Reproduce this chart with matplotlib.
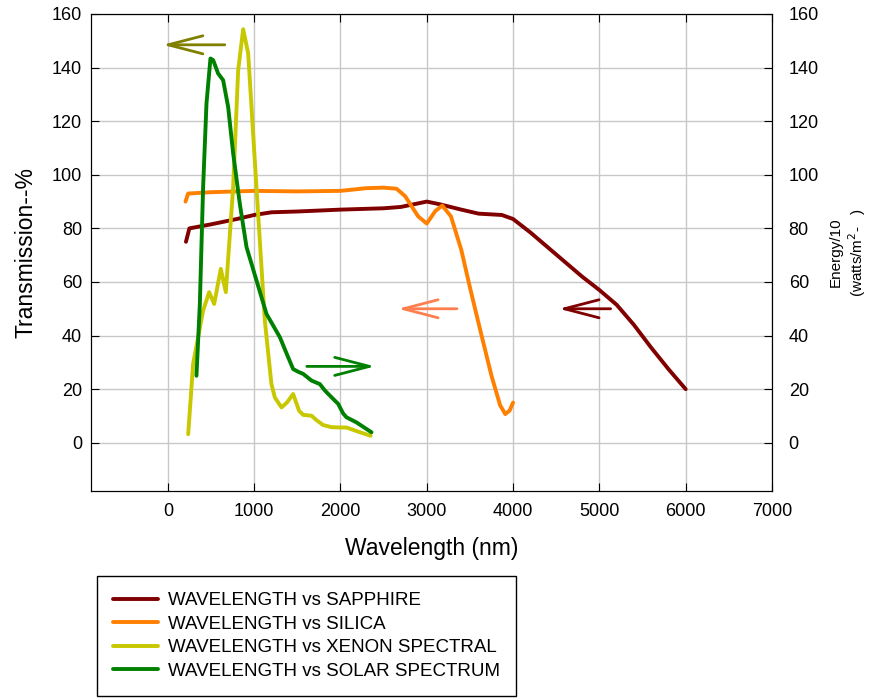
import matplotlib
matplotlib.use("Agg")
import matplotlib.pyplot as plt

plt.rcParams["font.family"] = ["Liberation Sans", "DejaVu Sans"]

# transmission curves (nm, %)
sapphire_x = [210, 250, 500, 800, 1000, 1200, 1500, 2000, 2500, 2700, 2850, 3000, 3150, 3400, 3600, 3870, 4000,
              4200, 4400, 4600, 4800, 5000, 5200, 5400, 5600, 5800, 6000]
sapphire_y = [75, 80, 81.5, 83.5, 85, 86, 86.3, 87, 87.5, 88, 89, 90, 89, 87, 85.5, 85, 83.5,
              78.5, 73, 67.5, 62, 57, 51.5, 44, 35.5, 27.5, 20]

silica_x = [205, 235, 500, 1000, 1500, 2000, 2300, 2500, 2650, 2750, 2900, 3000, 3100, 3180, 3280, 3400, 3500,
            3620, 3750, 3850, 3910, 3960, 4000]
silica_y = [90, 93, 93.5, 94, 93.8, 94, 95, 95.2, 94.8, 92, 84.5, 81.8, 86.5, 88.5, 84.5, 72, 58,
            42, 25, 14, 10.7, 12, 15]

xenon_x = [236, 293, 409, 479, 537, 614, 672, 757, 815, 873, 931, 1027, 1124, 1200, 1240, 1317, 1380, 1452,
           1520, 1568, 1665, 1720, 1800, 1900, 2000, 2070, 2200, 2350]
xenon_y = [3.2, 29.4, 49.3, 56.2, 51.8, 64.9, 56.2, 95.4, 139, 154.3, 145.3, 95.4, 45.6, 22, 16.9, 13.2, 15, 18.2,
           12, 10.4, 10.1, 8.5, 6.6, 5.8, 5.7, 5.7, 4.2, 2.6]

solar_x = [332, 371, 409, 448, 494, 525, 583, 641, 699, 757, 834, 912, 1027, 1143, 1298, 1380, 1452, 1510, 1568,
           1665, 1761, 1820, 1877, 1974, 2030, 2070, 2186, 2360]
solar_y = [25, 51.8, 95.4, 126.6, 143.4, 142.8, 137.8, 135.3, 125.3, 108, 89.2, 73, 60.6, 48.1, 39.4, 33, 27.5,
           26.5, 25.7, 23.2, 21.9, 19.5, 17.6, 14.5, 11, 9.5, 7.6, 3.9]

series = [
    (sapphire_x, sapphire_y, "#800000", "WAVELENGTH vs SAPPHIRE"),
    (silica_x, silica_y, "#FF8000", "WAVELENGTH vs SILICA"),
    (xenon_x, xenon_y, "#C8C800", "WAVELENGTH vs XENON SPECTRAL"),
    (solar_x, solar_y, "#008000", "WAVELENGTH vs SOLAR SPECTRUM"),
]

# arrows telling which axis each curve belongs to: (tail, head, colour)
arrows = [
    ((660, 148.5), (-60, 148.5), "#808000"),
    ((1610, 28.5), (2400, 28.5), "#008000"),
    ((3350, 50), (2665, 50), "#FF7F50"),
    ((5130, 50), (4530, 50), "#800000"),
]

fig = plt.figure(figsize=(8.77, 6.98), dpi=100)
ax = fig.add_axes([91 / 877, 1 - 491 / 698, (772 - 91) / 877, (491 - 14) / 698])

lines = []
for xs, ys, col, name in series:
    ln, = ax.plot(xs, ys, color=col, lw=2.8, solid_capstyle="round", solid_joinstyle="round", label=name)
    lines.append(ln)

for tail, head, col in arrows:
    ax.annotate("", xy=head, xytext=tail,
                arrowprops=dict(arrowstyle="->,head_length=2.5,head_width=0.65", color=col, lw=2,
                                shrinkA=0, shrinkB=0))

ax.set_xlim(-890, 7000)
ax.set_ylim(-18, 160)
ax.set_xticks(range(0, 7001, 1000))
ax.set_yticks(range(0, 161, 20))
ax.grid(True, color="#C8C8C8", lw=1)
ax.set_axisbelow(True)
ax.tick_params(direction="in", length=6, labelsize=13, top=True, pad=6.5)
ax.tick_params(axis="x", pad=9)
ax.set_xlabel("Wavelength (nm)", fontsize=16.5, labelpad=12)
ax.set_ylabel("Transmission--%", fontsize=16.5, labelpad=10)

ax2 = ax.twinx()
ax2.set_ylim(-18, 160)
ax2.set_yticks(range(0, 161, 20))
ax2.tick_params(direction="in", length=6, labelsize=13, pad=12)
ax2.set_ylabel("Energy/10\n(watts/m$^2$-   )", fontsize=11, labelpad=7)

fig.legend(handles=lines, loc="upper left", bbox_to_anchor=(97 / 877, 1 - 576 / 698),
           fontsize=13.5, frameon=True, fancybox=False, edgecolor="black", framealpha=1,
           handlelength=2.4, handletextpad=0.55, labelspacing=0.34, borderpad=0.85, borderaxespad=0)

fig.savefig("out.png", dpi=100)
